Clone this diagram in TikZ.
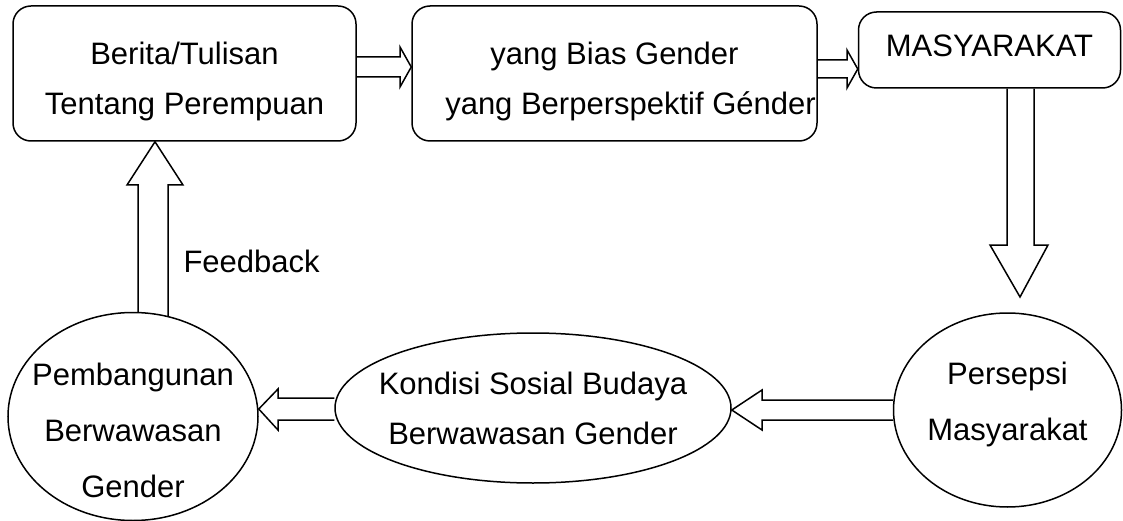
\documentclass[tikz,border=0pt]{standalone}
\usepackage{fontspec}
\setmainfont{Liberation Sans}
\usetikzlibrary{shapes.geometric}

\begin{document}
\begin{tikzpicture}[x=1pt, y=-1pt,
  box/.style={draw, line width=1.5pt, rounded corners=18pt, align=center, font=\fontsize{31}{50}\selectfont},
  oval/.style={draw, ellipse, line width=1.5pt, inner xsep=-25pt, inner ysep=-8pt, align=center, font=\fontsize{31}{56}\selectfont},
  fat/.style={draw, line width=1.5pt}]
% Set the page size
\useasboundingbox (0,0) rectangle (1123,521);

% Draw the boxes on top
\node[box, minimum width=343pt, minimum height=135pt, text height=89.5pt, text depth=6.5pt] (berita) at (184.5,73.5) {Berita/Tulisan\\Tentang Perempuan};
\node[box, minimum width=405pt, minimum height=135pt, text height=89.5pt, text depth=6.5pt] (bias) at (614.5,73.5) {yang Bias Gender\\yang Berperspektif Génder\hspace*{-32pt}};
\node[box, minimum width=262pt, minimum height=76pt, text depth=8pt] (masyarakat) at (989.5,50) {MASYARAKAT};

% Draw the ovals at the bottom
\node[oval, minimum width=228pt, minimum height=194pt, text height=78pt, text depth=16.5pt] (persepsi) at (1007.5,410) {Persepsi\\Masyarakat};
\node[oval, minimum width=396pt, minimum height=150pt, font=\fontsize{31}{50}\selectfont] (kondisi) at (533,408) {Kondisi Sosial Budaya\\Berwawasan Gender};
\node[oval, minimum width=250pt, minimum height=208pt, text height=170pt, text depth=7.5pt, inner ysep=-30pt] (pembangunan) at (133,416.5) {Pembangunan\\Berwawasan\\Gender};

% Arrows between the boxes
\draw[fat] (berita.east |- 0,57) -- (400,57) -- (400,47) -- (bias.west |- 0,67) -- (400,87) -- (400,77) -- (berita.east |- 0,77);
\draw[fat] (bias.east |- 0,60) -- (847,60) -- (847,50) -- (masyarakat.west |- 0,69) -- (847,88) -- (847,78) -- (bias.east |- 0,78);

% Big arrow down
\coordinate (down) at (1020,297);
\draw[fat] (masyarakat.south -| 1007,0) -- (1007,245) -- (990,245) -- (down) -- (1048,245) -- (1034,245) -- (masyarakat.south -| 1034,0);

% Arrows going left
\draw[fat] (persepsi.west |- 0,400) -- (762,400) -- (762,390) -- (kondisi.east |- 0,410) -- (762,430) -- (762,420) -- (persepsi.west |- 0,420);
\draw[fat] (kondisi.west |- 0,398) -- (278,398) -- (278,389) -- (pembangunan.east |- 0,409) -- (278,430) -- (278,420) -- (kondisi.west |- 0,420);

% Feedback arrow up
\draw[fat] (pembangunan.87 -| 138,0) -- (138,185) -- (127,185) -- (berita.south -| 155,0) -- (183,185) -- (168,185) -- (pembangunan.71 -| 168,0);
\node[anchor=base west, font=\fontsize{31}{50}\selectfont] (feedback) at (180,272) {Feedback};
\end{tikzpicture}
\end{document}
